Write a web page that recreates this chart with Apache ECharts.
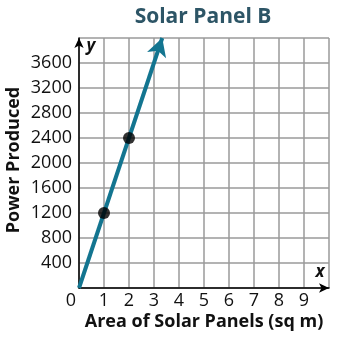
<!DOCTYPE html>
<html><head><meta charset="utf-8">
<script src="https://cdn.jsdelivr.net/npm/echarts@6/dist/echarts.min.js"></script>
<style>html,body{margin:0;padding:0;background:#fff}#c{width:347px;height:340px}</style>
</head><body><div id="c"></div>
<script>
const titleText = 'Solar Panel B';
const xTitle = 'Area of Solar Panels (sq m)';
const yTitle = 'Power Produced';
const xTicks = [0,1,2,3,4,5,6,7,8,9];
const yTicks = [400,800,1200,1600,2000,2400,2800,3200,3600];
const points = [[1,1200],[2,2400]];
const lineStart = [0,0];
const lineEnd = [3.33,4000];

const font = '"Open Sans", "DejaVu Sans", sans-serif';
const chart = echarts.init(document.getElementById('c'), null, {renderer:'canvas'});
chart.setOption({
  animation:false,
  graphic:[
    {type:'text',style:{text:titleText,fontFamily:font,fontSize:21,fontWeight:'bold',fill:'#2d5566',align:'center',verticalAlign:'middle'},x:203,y:17},
    {type:'text',style:{text:xTitle,fontFamily:font,fontSize:18,fontWeight:'bold',fill:'#111',align:'center',verticalAlign:'middle'},x:204,y:322},
    {type:'text',style:{text:yTitle,fontFamily:font,fontSize:18,fontWeight:'bold',fill:'#111',align:'center',verticalAlign:'middle'},x:14,y:160,rotation:Math.PI/2},
    {type:'text',style:{text:'y',fontFamily:font,fontSize:17,fontWeight:'bold',fontStyle:'italic',fill:'#111',align:'center',verticalAlign:'middle'},x:91,y:46},
    {type:'text',style:{text:'x',fontFamily:font,fontSize:17,fontWeight:'bold',fontStyle:'italic',fill:'#111',align:'center',verticalAlign:'middle'},x:320,y:272}
  ],
  grid:{left:79,top:38,width:250,height:250},
  xAxis:{type:'value',min:0,max:10,interval:1,
    axisLine:{show:true,lineStyle:{color:'#000',width:1.5},symbol:['none','arrow'],symbolSize:[7,10]},
    axisTick:{show:false},
    splitLine:{show:true,lineStyle:{color:'#9a9a9a',width:1.5}},
    axisLabel:{margin:4,fontFamily:font,fontSize:18,color:'#111',
      formatter:v=>xTicks.includes(v)?(v===0?'{z|0}':String(v)):'',
      rich:{z:{fontFamily:font,fontSize:18,color:'#111',padding:[0,16,0,0]}}}
  },
  yAxis:{type:'value',min:0,max:4000,interval:400,
    axisLine:{show:true,lineStyle:{color:'#000',width:1.5},symbol:['none','arrow'],symbolSize:[7,10]},
    axisTick:{show:false},
    splitLine:{show:true,lineStyle:{color:'#9a9a9a',width:1.5}},
    axisLabel:{margin:7,fontFamily:font,fontSize:18,color:'#111',
      formatter:v=>yTicks.includes(v)?String(v):''}
  },
  series:[
    {type:'line',data:[],markLine:{silent:true,symbol:['none','arrow'],symbolSize:[15,18],
      label:{show:false},lineStyle:{color:'#137590',width:4,type:'solid'},
      data:[[{coord:lineStart},{coord:lineEnd}]]}},
    {type:'scatter',data:points,symbolSize:12,itemStyle:{color:'#000'},z:5}
  ]
});
</script></body></html>
